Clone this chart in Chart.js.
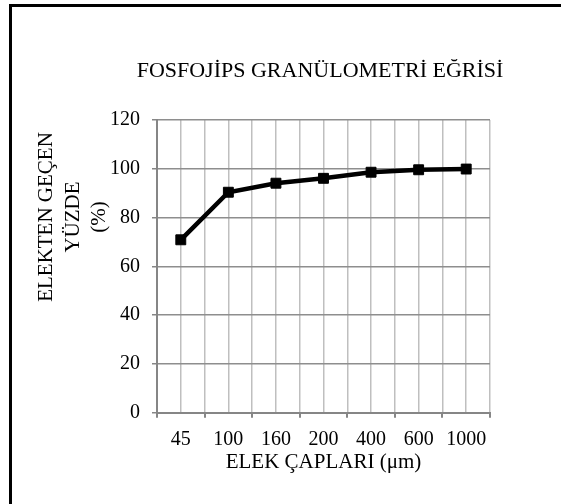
<!DOCTYPE html>
<html>
<head>
<meta charset="utf-8">
<script src="https://cdn.jsdelivr.net/npm/chart.js@4"></script>
<style>
  html, body { margin: 0; padding: 0; background: #fff; overflow: hidden; }
  #wrap { position: relative; width: 561px; height: 504px; }
  #frame {
    position: absolute; left: 9px; top: 4px; width: 600px; height: 600px;
    border-top: 3px solid #000; border-left: 3px solid #000;
    pointer-events: none;
  }
</style>
</head>
<body>
<div id="wrap">
  <canvas id="sieveChart" width="561" height="504"></canvas>
  <div id="frame"></div>
</div>
<script>
// Chart data
const sieveSizes = ['45', '100', '160', '200', '400', '600', '1000'];
const passingPercent = [70.9, 90.4, 94.1, 96.1, 98.6, 99.6, 99.9];
const chartTitle = 'FOSFOJİPS GRANÜLOMETRİ EĞRİSİ';
const xTitle = 'ELEK ÇAPLARI (μm)';
const yTitleLines = ['ELEKTEN GEÇEN', 'YÜZDE', '(%)'];

const serif = '"Liberation Serif", "Times New Roman", serif';
Chart.defaults.font.family = serif;
Chart.defaults.font.size = 20;
Chart.defaults.color = '#000';

// Draw the three line y axis title (sits above the centre of the axis in the original)
const yTitlePlugin = {
    id: 'yTitle',
    afterDraw(chart) {
        const ctx = chart.ctx;
        const area = chart.chartArea;
        ctx.save();
        ctx.font = '21px ' + serif;
        ctx.fillStyle = '#000';
        ctx.textAlign = 'center';
        ctx.textBaseline = 'middle';
        ctx.translate(area.left - 84, area.top + 97);
        ctx.rotate(-Math.PI / 2);
        yTitleLines.forEach(function (t, i) {
            ctx.fillText(t, 0, (i - 1) * 26.5);
        });
        ctx.restore();
    }
};

const ctx = document.getElementById('sieveChart').getContext('2d');

const sieveChart = new Chart(ctx, {
    type: 'line',
    data: {
        labels: sieveSizes,
        datasets: [{
            data: passingPercent,
            xAxisID: 'x',
            yAxisID: 'y',
            borderColor: '#000',
            borderWidth: 4.5,
            tension: 0,
            fill: false,
            pointStyle: 'rect',
            pointRadius: 7,
            pointHoverRadius: 7,
            pointBackgroundColor: '#000',
            pointBorderColor: '#000',
            pointBorderWidth: 1
        }]
    },
    options: {
        responsive: false,
        animation: false,
        events: [],
        layout: {
            padding: { top: 58, right: 0, bottom: 0, left: 79 }
        },
        plugins: {
            legend: { display: false },
            tooltip: { enabled: false },
            title: {
                display: true,
                text: chartTitle,
                color: '#000',
                font: { size: 22, weight: 'normal' },
                padding: { top: 0, bottom: 35.6 }
            }
        },
        scales: {
            x: {
                type: 'category',
                position: 'bottom',
                offset: true,
                border: { display: true, color: '#868686', width: 2 },
                grid: {
                    offset: true,
                    drawOnChartArea: false,
                    drawTicks: true,
                    tickLength: 5,
                    color: '#868686',
                    lineWidth: 2
                },
                ticks: { padding: 10, maxRotation: 0, autoSkip: false, font: { size: 20 } },
                title: {
                    display: true,
                    text: xTitle,
                    font: { size: 21 },
                    padding: { top: -12, bottom: 29 }
                }
            },
            // grid only: lines at every category centre and boundary
            xg: {
                type: 'linear',
                position: 'top',
                min: -0.5,
                max: 6.5,
                border: { display: false },
                grid: { color: '#bfbfbf', lineWidth: 1.5, drawTicks: false },
                ticks: { display: false, stepSize: 0.5, maxTicksLimit: 20 }
            },
            y: {
                min: 0,
                max: 120,
                afterFit: function (scale) { scale.width = 78; },
                border: { display: true, color: '#868686', width: 2 },
                grid: {
                    color: '#8e8e8e',
                    lineWidth: 1.5,
                    tickLength: 5,
                    tickColor: '#868686'
                },
                ticks: { stepSize: 20, padding: 12, font: { size: 20 } }
            },
            // empty right side space, keeps the plot narrow while the title stays wide
            yr: {
                type: 'linear',
                position: 'right',
                afterFit: function (scale) { scale.width = 71; },
                border: { display: false },
                grid: { display: false },
                ticks: { display: false }
            }
        }
    },
    plugins: [yTitlePlugin]
});
</script>
</body>
</html>
